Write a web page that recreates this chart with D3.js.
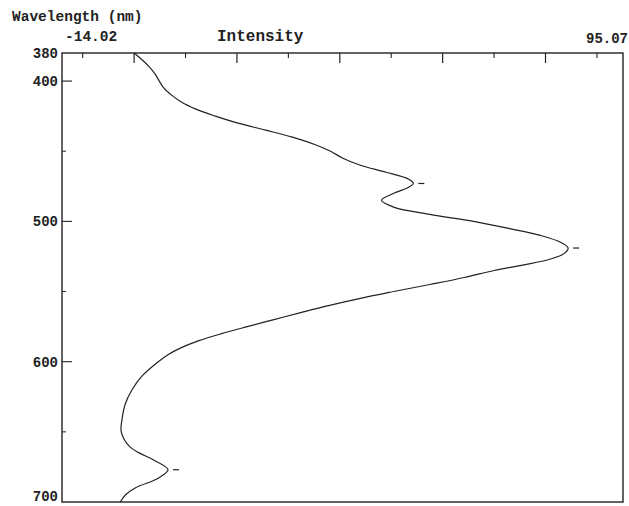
<!DOCTYPE html>
<html>
<head>
<meta charset="utf-8">
<script src="https://cdn.jsdelivr.net/npm/d3@7"></script>
<style>
  body { margin: 0; background: #fff; }
  text { font-family: "Liberation Mono", "Courier New", monospace; font-weight: bold; fill: #222; }
</style>
</head>
<body>
<script>
// wavelength (nm) along the vertical axis
const wavelengths = [380, 385, 390, 395, 400, 405, 410, 415, 420, 425, 430, 435, 440, 445, 450, 455,
  460, 465, 470, 473, 476, 480, 485, 490, 495, 500, 505, 510, 515, 519, 523, 527, 531, 535, 540,
  545, 550, 555, 560, 565, 570, 575, 580, 585, 590, 595, 600, 610, 620, 630, 640, 650, 660, 665,
  670, 677, 683, 690, 695, 700];
// intensity
const intensity = [0, 1.6, 3.0, 4.1, 4.9, 5.8, 7.3, 9.2, 12.0, 15.8, 20.2, 25.6, 30.8, 35.0, 38.2, 40.6,
  44.0, 49.0, 53.4, 54.3, 53.2, 50.5, 48.1, 50.6, 57.5, 66.0, 72.8, 79.0, 83.0, 84.4, 83.6, 80.8, 75.8, 70.0, 64.2,
  57.5, 50.5, 43.8, 37.8, 32.4, 27.2, 22.0, 17.0, 12.6, 9.2, 6.6, 4.7, 1.6, -0.4, -1.7, -2.3, -2.5, -1.0, 1.0,
  3.8, 6.6, 4.7, 0.2, -1.7, -2.7];
const peaks = [473, 519, 677];

const yLabels = [380, 400, 500, 600, 700];
const yMajor = [400, 500, 600];
const yMinor = [450, 550, 650];
const xMajor = [0, 20, 40, 60, 80];
const xMinor = [-10, 10, 30, 50, 70, 90];
const xMin = -14.02, xMax = 95.07;

const width = 629, height = 506;
const margin = {left: 62, right: 6, top: 53, bottom: 4};

const svg = d3.select("body").append("svg")
  .attr("width", width)
  .attr("height", height);

const x = d3.scaleLinear().domain([xMin, xMax]).range([margin.left, width - margin.right]);
const y = d3.scaleLinear().domain([380, 700]).range([margin.top, height - margin.bottom]);

// frame
svg.append("rect")
  .attr("x", x(xMin)).attr("y", y(380))
  .attr("width", x(xMax) - x(xMin)).attr("height", y(700) - y(380))
  .attr("fill", "none").attr("stroke", "#222").attr("stroke-width", 1.4);

// top ticks (pointing down)
svg.append("g").selectAll("line.xmaj").data(xMajor).enter().append("line")
  .attr("x1", d => x(d)).attr("x2", d => x(d))
  .attr("y1", y(380)).attr("y2", y(380) + 10)
  .attr("stroke", "#222").attr("stroke-width", 1.2);
svg.append("g").selectAll("line.xmin").data(xMinor).enter().append("line")
  .attr("x1", d => x(d)).attr("x2", d => x(d))
  .attr("y1", y(380)).attr("y2", y(380) + 5)
  .attr("stroke", "#222").attr("stroke-width", 1.1);

// left ticks (pointing right)
svg.append("g").selectAll("line.ymaj").data(yMajor).enter().append("line")
  .attr("x1", x(xMin)).attr("x2", x(xMin) + 10)
  .attr("y1", d => y(d)).attr("y2", d => y(d))
  .attr("stroke", "#222").attr("stroke-width", 1.1);
svg.append("g").selectAll("line.ymin").data(yMinor).enter().append("line")
  .attr("x1", x(xMin)).attr("x2", x(xMin) + 4)
  .attr("y1", d => y(d)).attr("y2", d => y(d))
  .attr("stroke", "#222").attr("stroke-width", 1);

// left labels
svg.append("g").selectAll("text").data(yLabels).enter().append("text")
  .attr("x", x(xMin) - 4)
  .attr("y", d => d === 700 ? y(d) - 1 : y(d) + 5)
  .attr("text-anchor", "end")
  .style("font-size", "14px")
  .text(d => d);

// top labels
svg.append("text").attr("x", 12).attr("y", 21).style("font-size", "14.5px").text("Wavelength (nm)");
svg.append("text").attr("x", 65).attr("y", 41).style("font-size", "14.5px").text(xMin.toFixed(2));
svg.append("text").attr("x", 217).attr("y", 41).style("font-size", "16px").text("Intensity");
svg.append("text").attr("x", 628).attr("y", 43).attr("text-anchor", "end").style("font-size", "14px").text(xMax.toFixed(2));

// spectrum trace
const data = wavelengths.map((w, i) => ({w: w, v: intensity[i]}));
const line = d3.line()
  .x(d => x(d.v))
  .y(d => y(d.w))
  .curve(d3.curveCatmullRom.alpha(0.5));

svg.append("path")
  .attr("d", line(data))
  .attr("fill", "none")
  .attr("stroke", "#222")
  .attr("stroke-width", 1.2);

// peak markers
svg.append("g").selectAll("line.peak").data(peaks).enter().append("line")
  .attr("x1", d => x(intensity[wavelengths.indexOf(d)]) + 5)
  .attr("x2", d => x(intensity[wavelengths.indexOf(d)]) + 11)
  .attr("y1", d => y(d)).attr("y2", d => y(d))
  .attr("stroke", "#222").attr("stroke-width", 1.2);
</script>
</body>
</html>
